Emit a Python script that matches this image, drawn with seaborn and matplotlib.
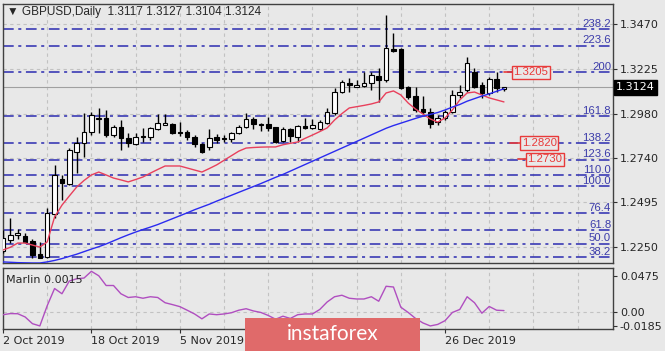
import numpy as np
import matplotlib
matplotlib.use("Agg")
import matplotlib.pyplot as plt
import seaborn as sns
from matplotlib.patches import Rectangle
from matplotlib.transforms import blended_transform_factory

# dados diários GBPUSD (barra 0 = 2 Oct 2019)
opens = [1.2230, 1.2290, 1.2317, 1.2312, 1.2284, 1.2213, 1.2197, 1.2432, 1.2623, 1.2596,
         1.2770, 1.2820, 1.2880, 1.2951, 1.2956, 1.2863, 1.2907, 1.2847, 1.2814, 1.2858,
         1.2852, 1.2896, 1.2920, 1.2924, 1.2880, 1.2880, 1.2852, 1.2814, 1.2798, 1.2852,
         1.2847, 1.2842, 1.2874, 1.2907, 1.2951, 1.2924, 1.2924, 1.2907, 1.2831, 1.2896,
         1.2852, 1.2913, 1.2902, 1.2896, 1.2929, 1.2984, 1.3098, 1.3148, 1.3126, 1.3131,
         1.3148, 1.3186, 1.3164, 1.3333, 1.3333, 1.3126, 1.3076, 1.3005, 1.2989, 1.2934,
         1.2956, 1.2989, 1.3082, 1.3109, 1.3208, 1.3137, 1.3093, 1.3170, 1.3117]
highs = [1.2345, 1.2410, 1.2350, 1.2328, 1.2295, 1.2279, 1.2464, 1.2700, 1.2645, 1.2792,
         1.2853, 1.2984, 1.2989, 1.3011, 1.3000, 1.2918, 1.2945, 1.2874, 1.2874, 1.2902,
         1.2907, 1.2978, 1.2978, 1.2929, 1.2934, 1.2891, 1.2863, 1.2820, 1.2896, 1.2869,
         1.2863, 1.2880, 1.2918, 1.2984, 1.2962, 1.2929, 1.2962, 1.2907, 1.2907, 1.2902,
         1.2918, 1.2956, 1.2951, 1.2945, 1.3011, 1.3120, 1.3164, 1.3175, 1.3164, 1.3208,
         1.3208, 1.3230, 1.3519, 1.3421, 1.3339, 1.3131, 1.3126, 1.3076, 1.3011, 1.2973,
         1.3000, 1.3109, 1.3137, 1.3290, 1.3230, 1.3153, 1.3180, 1.3208, 1.3127]
lows = [1.2220, 1.2273, 1.2295, 1.2273, 1.2191, 1.2191, 1.2191, 1.2410, 1.2508, 1.2590,
        1.2656, 1.2743, 1.2863, 1.2874, 1.2853, 1.2853, 1.2781, 1.2798, 1.2809, 1.2825,
        1.2836, 1.2891, 1.2918, 1.2869, 1.2858, 1.2836, 1.2798, 1.2765, 1.2781, 1.2820,
        1.2825, 1.2825, 1.2869, 1.2902, 1.2896, 1.2885, 1.2885, 1.2820, 1.2825, 1.2825,
        1.2825, 1.2896, 1.2896, 1.2891, 1.2924, 1.2973, 1.3093, 1.3098, 1.3126, 1.3126,
        1.3109, 1.3044, 1.3153, 1.3317, 1.3115, 1.3060, 1.2989, 1.2978, 1.2902, 1.2918,
        1.2945, 1.2984, 1.3066, 1.3098, 1.3120, 1.3066, 1.3082, 1.3098, 1.3104]
closes = [1.2300, 1.2317, 1.2328, 1.2279, 1.2208, 1.2191, 1.2437, 1.2645, 1.2601, 1.2781,
          1.2820, 1.2880, 1.2973, 1.2957, 1.2863, 1.2907, 1.2847, 1.2820, 1.2852, 1.2852,
          1.2902, 1.2929, 1.2930, 1.2874, 1.2874, 1.2852, 1.2814, 1.2770, 1.2847, 1.2836,
          1.2842, 1.2874, 1.2907, 1.2951, 1.2924, 1.2920, 1.2902, 1.2825, 1.2896, 1.2858,
          1.2913, 1.2902, 1.2918, 1.2934, 1.2989, 1.3098, 1.3153, 1.3137, 1.3137, 1.3148,
          1.3191, 1.3164, 1.3339, 1.3322, 1.3120, 1.3071, 1.3000, 1.2989, 1.2924, 1.2956,
          1.2989, 1.3082, 1.3098, 1.3257, 1.3126, 1.3093, 1.3170, 1.3120, 1.3124]

# médias móveis
ma_rapida = [1.2235, 1.2250, 1.2273, 1.2273, 1.2262, 1.2251, 1.2279, 1.2415, 1.2480, 1.2530,
             1.2579, 1.2615, 1.2645, 1.2661, 1.2645, 1.2628, 1.2618, 1.2607, 1.2620, 1.2634,
             1.2655, 1.2675, 1.2694, 1.2694, 1.2694, 1.2683, 1.2672, 1.2661, 1.2680, 1.2700,
             1.2725, 1.2750, 1.2775, 1.2792, 1.2795, 1.2797, 1.2798, 1.2798, 1.2810, 1.2818,
             1.2825, 1.2845, 1.2863, 1.2882, 1.2902, 1.2945, 1.2980, 1.3011, 1.3018, 1.3025,
             1.3033, 1.3044, 1.3093, 1.3104, 1.3082, 1.3038, 1.3005, 1.2978, 1.2951, 1.2934,
             1.2956, 1.3000, 1.3055, 1.3093, 1.3098, 1.3082, 1.3066, 1.3055, 1.3044]
ma_lenta = [1.2170, 1.2168, 1.2166, 1.2165, 1.2164, 1.2164, 1.2170, 1.2178, 1.2188, 1.2200,
            1.2212, 1.2226, 1.2240, 1.2253, 1.2268, 1.2285, 1.2302, 1.2318, 1.2333, 1.2347,
            1.2360, 1.2374, 1.2390, 1.2406, 1.2422, 1.2438, 1.2455, 1.2470, 1.2485, 1.2502,
            1.2518, 1.2534, 1.2550, 1.2566, 1.2582, 1.2598, 1.2615, 1.2632, 1.2648, 1.2666,
            1.2684, 1.2702, 1.2720, 1.2738, 1.2756, 1.2774, 1.2792, 1.2810, 1.2828, 1.2846,
            1.2864, 1.2882, 1.2900, 1.2915, 1.2928, 1.2941, 1.2954, 1.2966, 1.2976, 1.2986,
            1.3000, 1.3016, 1.3030, 1.3048, 1.3062, 1.3076, 1.3088, 1.3102, 1.3116]

# oscilador Marlin
marlin = [-0.0040, -0.0025, -0.0027, -0.0070, -0.0160, -0.0190, 0.0080, 0.0310, 0.0240, 0.0410,
          0.0440, 0.0450, 0.0540, 0.0480, 0.0350, 0.0350, 0.0240, 0.0190, 0.0200, 0.0180,
          0.0200, 0.0190, 0.0120, 0.0095, 0.0068, 0.0020, -0.0030, -0.0095, -0.0030, -0.0040,
          -0.0030, -0.0014, 0.0020, 0.0040, 0.0010, -0.0010, -0.0050, -0.0100, -0.0060, -0.0090,
          -0.0040, -0.0030, -0.0030, 0.0030, 0.0130, 0.0200, 0.0220, 0.0180, 0.0170, 0.0170,
          0.0200, 0.0140, 0.0340, 0.0330, 0.0060, -0.0010, -0.0090, -0.0150, -0.0190, -0.0170,
          -0.0120, -0.0010, 0.0030, 0.0200, 0.0120, -0.0020, 0.0070, 0.0020, 0.0015]

# níveis de Fibonacci
fib_base = 1.1959
fib_topo = 1.2582
fib_niveis = [238.2, 223.6, 200.0, 161.8, 138.2, 123.6, 110.0, 100.0, 76.4, 61.8, 50.0, 38.2]
fib_textos = ["238.2", "223.6", "200", "161.8", "138.2", "123.6", "110.0", "100.0",
              "76.4", "61.8", "50.0", "38.2"]

precos_eixo = [1.2250, 1.2495, 1.2740, 1.2980, 1.3225, 1.3470]
rotulos_preco = [1.3205, 1.2820, 1.2730]
datas_idx = [0, 12, 24, 60]
datas_txt = ["2 Oct 2019", "18 Oct 2019", "5 Nov 2019", "26 Dec 2019"]

FUNDO = "#e8e8e8"
GRADE = "#c2c2c2"
FONTE_ESTREITA = ["Liberation Sans", "DejaVu Sans"]

sns.set_style("white")
plt.rcParams["font.family"] = ["DejaVu Sans"]
plt.rcParams["font.size"] = 8

fig = plt.figure(figsize=(6.65, 3.51), dpi=100, facecolor=FUNDO)
ax = fig.add_axes([3 / 665, 88 / 351, 610 / 665, 259 / 351], facecolor=FUNDO)
axm = fig.add_axes([3 / 665, 22 / 351, 610 / 665, 61 / 351], facecolor=FUNDO)

idx = np.arange(len(opens))
o, h, l, c = map(np.array, (opens, highs, lows, closes))
alta = c >= o

# grade
for k in range(0, 84, 6):
    ax.axvline(k, color=GRADE, lw=0.8, ls=(0, (3, 3)), zorder=0)
    axm.axvline(k, color=GRADE, lw=0.8, ls=(0, (3, 3)), zorder=0)
for p in precos_eixo:
    ax.axhline(p, color=GRADE, lw=0.8, ls=(0, (3, 3)), zorder=0)
axm.axhline(0, color=GRADE, lw=0.8, ls=(0, (3, 3)), zorder=0)

# linhas de Fibonacci
tr = blended_transform_factory(ax.transAxes, ax.transData)
for nivel, txt in zip(fib_niveis, fib_textos):
    p = fib_base + nivel / 100 * (fib_topo - fib_base)
    ax.axhline(p, color="#2b2bb0", lw=1.1, ls=(0, (7, 3, 2, 3)), zorder=1)
    ax.text(0.997, p + 0.0001, txt, transform=tr, ha="right", va="bottom",
            color="#3c3caa", fontsize=8.2, family=FONTE_ESTREITA, zorder=6)

# linha do preço atual
ax.axhline(closes[-1], color="#a0a0a0", lw=0.8, zorder=1)

# candles
ax.vlines(idx, l, h, color="black", lw=1, zorder=3)
corpo = np.maximum(np.abs(c - o), 0.00025)
ax.bar(idx, corpo, bottom=np.minimum(o, c), width=0.62,
       color=np.where(alta, "white", "black"), edgecolor="black", linewidth=0.8, zorder=4)

# médias
sns.lineplot(x=idx, y=ma_rapida, ax=ax, color="#e8405c", lw=1, zorder=5)
sns.lineplot(x=idx, y=ma_lenta, ax=ax, color="#2b2bf0", lw=1, zorder=5)

# rótulos de preço em vermelho
ultimo = idx[-1]
desloc = [(0.0, 1.1), (0.8, 2.2), (1.9, 3.0)]
for p, (x0, x1) in zip(rotulos_preco, desloc):
    ax.plot([ultimo + x0, ultimo + x1], [p, p], color="#e83a3a", lw=1.2, zorder=5)
    ax.text(ultimo + x1 + 0.2, p, f"{p:.4f}", color="#e83a3a", fontsize=8.2,
            family=FONTE_ESTREITA, va="center", ha="left", zorder=6,
            bbox=dict(boxstyle="square,pad=0.15", fc=FUNDO, ec="#e83a3a", lw=1))

ax.set_xlim(0, 82.8)
ax.set_ylim(1.2164, 1.3579)
ax.yaxis.tick_right()
ax.set_yticks(precos_eixo)
ax.set_yticklabels([f"{p:.4f}" for p in precos_eixo])
ax.tick_params(axis="y", length=3, width=0.8, pad=2, labelsize=8, right=True, color="#303030")
ax.tick_params(axis="x", bottom=False, labelbottom=False)
ax.text(1.005, closes[-1], f"{closes[-1]:.4f}", transform=tr, color="white", fontsize=8,
        va="center", ha="left", bbox=dict(boxstyle="square,pad=0.2", fc="black", ec="black"))

# painel Marlin
sns.lineplot(x=idx, y=marlin, ax=axm, color="#b04ec0", lw=1, zorder=3)
axm.set_xlim(0, 82.8)
axm.set_ylim(-0.0231, 0.0584)
axm.yaxis.tick_right()
axm.set_yticks([0.0475, 0.0, -0.0185])
axm.set_yticklabels(["0.0475", "0.00", "-0.0185"])
axm.tick_params(axis="y", length=3, width=0.8, pad=2, labelsize=8, right=True, color="#303030")
axm.set_xticks(datas_idx)
axm.set_xticklabels(datas_txt, ha="left")
axm.tick_params(axis="x", length=3, width=0.8, pad=2, labelsize=8, bottom=True, color="#303030")
axm.text(0.005, 0.80, f"Marlin {marlin[-1]:.4f}", transform=axm.transAxes, fontsize=8,
         va="center", ha="left")

for a in (ax, axm):
    for s in a.spines.values():
        s.set_color("#404040")
        s.set_linewidth(1)
    a.set_xlabel("")
    a.set_ylabel("")

fig.text(7 / 665, 1 - 12 / 351,
         f"\u25bc GBPUSD,Daily  {opens[-1]:.4f} {highs[-1]:.4f} {lows[-1]:.4f} {closes[-1]:.4f}",
         fontsize=8.5, family=FONTE_ESTREITA, va="center", ha="left")

# marca d'água
fig.patches.append(Rectangle((245 / 665, 0), 175 / 665, 33 / 351, transform=fig.transFigure,
                             fc="#e06a6a", ec="none", zorder=10))
fig.text(333 / 665, 1 - 334 / 351, "instaforex", color="white", fontsize=15,
         family=["Lato", "DejaVu Sans"], ha="center", va="center", zorder=11)

fig.savefig("out.png", dpi=100, facecolor=FUNDO)
